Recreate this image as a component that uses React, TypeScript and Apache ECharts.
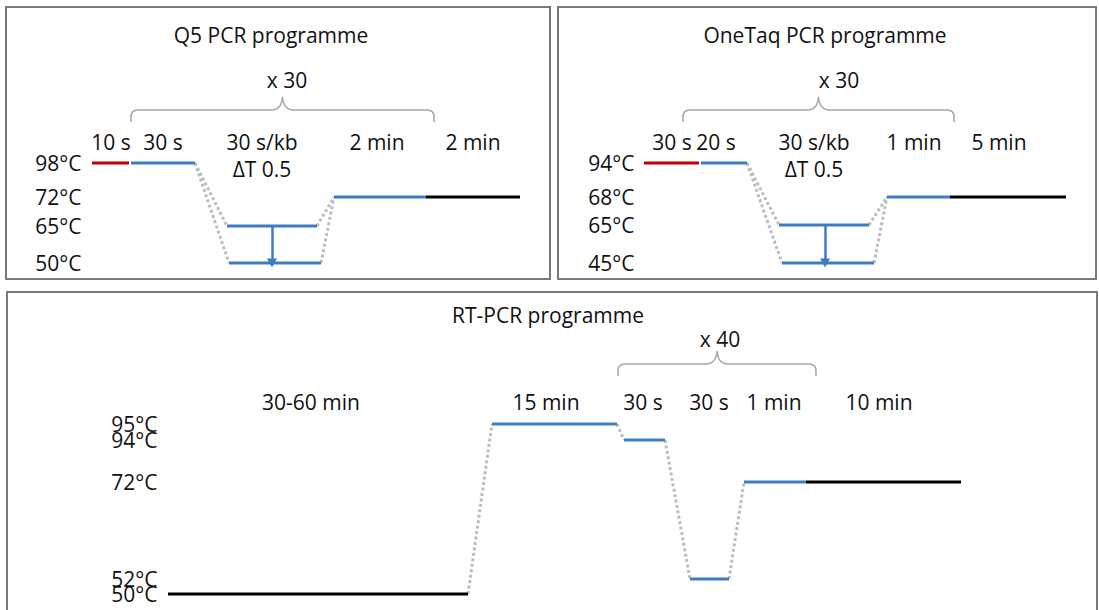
import React, { useEffect, useRef } from "react";
import * as echarts from "echarts";

// ---------------- Q5 PCR programme ----------------
const q5Title = "Q5 PCR programme";
const q5TempLabels = ["98°C", "72°C", "65°C", "50°C"];
const q5TempLevels = [112, 78, 49, 12];
// hold steps: [start, end, level, phase]
const q5Steps: [number, number, number, string][] = [
  [6, 43, 112, "denature"],
  [45, 109, 112, "cycle"],
  [141, 231, 49, "cycle"],
  [143, 235, 12, "cycle"],
  [248, 340, 78, "cycle"],
  [340, 434, 78, "hold"],
];
const q5Ramps = [[1, 2], [1, 3], [2, 4], [3, 4]];
const q5DurationLabels = ["10 s", "30 s", "30 s/kb", "2 min", "2 min"];
const q5DurationX = [25, 77, 176, 291, 387];
const q5GradientLabel = "ΔT 0.5";
const q5GradientX = 176;
const q5GradientArrow = [186, 49, 12];
const q5Cycle = [45, 348, 165];
const q5CycleLabel = "x 30";
const q5CycleLabelX = 201;

// ---------------- OneTaq PCR programme ----------------
const oneTaqTitle = "OneTaq PCR programme";
const oneTaqTempLabels = ["94°C", "68°C", "65°C", "45°C"];
const oneTaqTempLevels = [112, 78, 50, 12];
const oneTaqSteps: [number, number, number, string][] = [
  [5, 60, 112, "denature"],
  [62, 108, 112, "cycle"],
  [140, 230, 50, "cycle"],
  [143, 235, 12, "cycle"],
  [248, 311, 78, "cycle"],
  [311, 427, 78, "hold"],
];
const oneTaqRamps = [[1, 2], [1, 3], [2, 4], [3, 4]];
const oneTaqDurationLabels = ["30 s", "20 s", "30 s/kb", "1 min", "5 min"];
const oneTaqDurationX = [33, 77, 175, 275, 360];
const oneTaqGradientLabel = "ΔT 0.5";
const oneTaqGradientX = 175;
const oneTaqGradientArrow = [186, 50, 12];
const oneTaqCycle = [44, 315, 165];
const oneTaqCycleLabel = "x 30";
const oneTaqCycleLabelX = 200;

// ---------------- RT-PCR programme ----------------
const rtTitle = "RT-PCR programme";
const rtTempLabels = ["95°C", "94°C", "72°C", "52°C", "50°C"];
const rtTempLevels = [181, 165, 123, 26, 11];
const rtSteps: [number, number, number, string][] = [
  [6, 306, 11, "hold"],
  [330, 455, 181, "cycle"],
  [462, 503, 165, "cycle"],
  [528, 567, 26, "cycle"],
  [582, 644, 123, "cycle"],
  [644, 799, 123, "hold"],
];
const rtRamps = [[0, 1], [1, 2], [2, 3], [3, 4]];
const rtDurationLabels = ["30-60 min", "15 min", "30 s", "30 s", "1 min", "10 min"];
const rtDurationX = [149, 384, 481, 547, 612, 717];
const rtCycle = [456, 654, 241];
const rtCycleLabel = "x 40";
const rtCycleLabelX = 558;

const FONT = "'Open Sans', sans-serif";
const TEXT = "#111111";
const BLUE = "#3c7cc4";
const PHASE_COLORS: Record<string, string> = { denature: "#c00000", cycle: BLUE, hold: "#000000" };

type Panel = {
  grid: { left: number; top: number; width: number; height: number };
  tempLabels: string[];
  tempLevels: number[];
  steps: [number, number, number, string][];
  ramps: number[][];
  durLabels: string[];
  durX: number[];
  durLevel: number;
  gradLabel?: string;
  gradX?: number;
  gradLevel?: number;
  arrow?: number[];
  cycle: number[];
  cycleLabel: string;
  cycleLabelX: number;
  cycleLabelLevel: number;
};

const panels: Panel[] = [
  {
    grid: { left: 86, top: 60, width: 444, height: 215 },
    tempLabels: q5TempLabels, tempLevels: q5TempLevels, steps: q5Steps, ramps: q5Ramps,
    durLabels: q5DurationLabels, durX: q5DurationX, durLevel: 133,
    gradLabel: q5GradientLabel, gradX: q5GradientX, gradLevel: 106, arrow: q5GradientArrow,
    cycle: q5Cycle, cycleLabel: q5CycleLabel, cycleLabelX: q5CycleLabelX, cycleLabelLevel: 195,
  },
  {
    grid: { left: 639, top: 60, width: 440, height: 215 },
    tempLabels: oneTaqTempLabels, tempLevels: oneTaqTempLevels, steps: oneTaqSteps, ramps: oneTaqRamps,
    durLabels: oneTaqDurationLabels, durX: oneTaqDurationX, durLevel: 133,
    gradLabel: oneTaqGradientLabel, gradX: oneTaqGradientX, gradLevel: 106, arrow: oneTaqGradientArrow,
    cycle: oneTaqCycle, cycleLabel: oneTaqCycleLabel, cycleLabelX: oneTaqCycleLabelX, cycleLabelLevel: 195,
  },
  {
    grid: { left: 162, top: 330, width: 820, height: 275 },
    tempLabels: rtTempLabels, tempLevels: rtTempLevels, steps: rtSteps, ramps: rtRamps,
    durLabels: rtDurationLabels, durX: rtDurationX, durLevel: 203,
    cycle: rtCycle, cycleLabel: rtCycleLabel, cycleLabelX: rtCycleLabelX, cycleLabelLevel: 266,
  },
];

const hiddenSymbol = { color: "rgba(0,0,0,0)", opacity: 1 };

function buildOption() {
  const grids: any[] = [];
  const xAxes: any[] = [];
  const yAxes: any[] = [];
  const series: any[] = [];

  panels.forEach((p, gi) => {
    grids.push({ ...p.grid, containLabel: false });
    xAxes.push({ type: "value", gridIndex: gi, min: 0, max: p.grid.width, show: false });
    yAxes.push({ type: "value", gridIndex: gi, min: 0, max: p.grid.height, show: false });

    // hold steps
    p.steps.forEach((s) => {
      series.push({
        type: "line", xAxisIndex: gi, yAxisIndex: gi, silent: true, z: 3,
        symbol: "none",
        data: [[s[0], s[2]], [s[1], s[2]]],
        lineStyle: { color: PHASE_COLORS[s[3]], width: 3, cap: "butt" },
      });
    });

    // ramps between steps (dotted)
    p.ramps.forEach(([i, j]) => {
      const a = p.steps[i];
      const b = p.steps[j];
      series.push({
        type: "line", xAxisIndex: gi, yAxisIndex: gi, silent: true, z: 2,
        symbol: "none",
        data: [[a[1], a[2]], [b[0], b[2]]],
        lineStyle: { color: "#bdbdbd", width: 3, type: [3, 2.5], cap: "butt" },
      });
    });

    // temperature labels, at the left edge of the plot, at each level
    series.push({
      type: "scatter", xAxisIndex: gi, yAxisIndex: gi, silent: true, z: 4,
      symbolSize: 1,
      itemStyle: hiddenSymbol,
      data: p.tempLevels.map((lv, i) => ({ value: [0, lv], text: p.tempLabels[i] })),
      label: {
        show: true, position: "left", distance: 4, opacity: 1,
        formatter: (prm: any) => prm.data.text,
        fontSize: 21, lineHeight: 14, fontFamily: FONT, color: TEXT,
      },
      labelLayout: { hideOverlap: false },
    });

    // step durations, gradient note and cycle count
    const labelItems: any[] = p.durLabels.map((t, i) => ({ value: [p.durX[i], p.durLevel], text: t }));
    if (p.gradLabel) labelItems.push({ value: [p.gradX, p.gradLevel], text: p.gradLabel });
    labelItems.push({ value: [p.cycleLabelX, p.cycleLabelLevel], text: p.cycleLabel });

    const labelSeries: any = {
      type: "scatter", xAxisIndex: gi, yAxisIndex: gi, silent: true, z: 4,
      symbolSize: 1,
      itemStyle: hiddenSymbol,
      data: labelItems,
      label: {
        show: true, position: "inside", opacity: 1,
        formatter: (prm: any) => prm.data.text,
        fontSize: 21, lineHeight: 22, fontFamily: FONT, color: TEXT,
      },
      labelLayout: { hideOverlap: false },
    };
    if (p.arrow) {
      labelSeries.markLine = {
        silent: true,
        symbol: ["none", "triangle"],
        symbolSize: [10, 9],
        label: { show: false },
        lineStyle: { color: BLUE, width: 2.5, type: "solid", opacity: 1 },
        itemStyle: { color: BLUE, opacity: 1 },
        data: [[{ coord: [p.arrow[0], p.arrow[1]] }, { coord: [p.arrow[0], p.arrow[2]] }]],
      };
    }
    series.push(labelSeries);

    // cycle brace
    series.push({
      type: "custom", xAxisIndex: gi, yAxisIndex: gi, silent: true, z: 2,
      data: [p.cycle],
      renderItem: (_params: any, api: any) => {
        const a = api.coord([api.value(0), api.value(2)]);
        const b = api.coord([api.value(1), api.value(2)]);
        const y = a[1];
        const xs = a[0];
        const xe = b[0];
        const xm = (xs + xe) / 2;
        const r = 7;
        const drop = 12;
        const rise = 13;
        const d =
          `M${xs},${y + drop} L${xs},${y + r} Q${xs},${y} ${xs + r},${y} ` +
          `L${xm - 11},${y} Q${xm - 1},${y} ${xm},${y - rise} Q${xm + 1},${y} ${xm + 11},${y} ` +
          `L${xe - r},${y} Q${xe},${y} ${xe},${y + r} L${xe},${y + drop}`;
        return {
          type: "path",
          shape: { pathData: d },
          style: { stroke: "#a6a6a6", lineWidth: 1.5, fill: "none" },
        };
      },
    });
  });

  const frame = (x: number, y: number, w: number, h: number) => ({
    type: "rect", silent: true, z: 0,
    shape: { x, y, width: w, height: h },
    style: { fill: "none", stroke: "#7a7a7a", lineWidth: 2 },
  });
  const title = (text: string, x: number, y: number) => ({
    type: "text", silent: true, z: 5, x, y,
    style: {
      text, font: `21px ${FONT}`, fill: TEXT,
      align: "center", verticalAlign: "middle",
      textAlign: "center", textVerticalAlign: "middle",
    },
  });

  return {
    animation: false,
    backgroundColor: "#ffffff",
    grid: grids,
    xAxis: xAxes,
    yAxis: yAxes,
    series,
    graphic: [
      frame(6, 7, 544, 272),
      frame(558, 7, 538, 272),
      frame(7, 292, 1090, 340),
      title(q5Title, 271, 35),
      title(oneTaqTitle, 825, 35),
      title(rtTitle, 548, 315),
    ],
  };
}

export default function App() {
  const ref = useRef<HTMLDivElement>(null);
  useEffect(() => {
    if (!ref.current) return;
    const chart = echarts.init(ref.current, undefined, { renderer: "svg" });
    chart.setOption(buildOption() as any);
    return () => chart.dispose();
  }, []);
  return (
    <div
      ref={ref}
      style={{ position: "absolute", left: 0, top: 0, width: 1099, height: 610, background: "#fff" }}
    />
  );
}
